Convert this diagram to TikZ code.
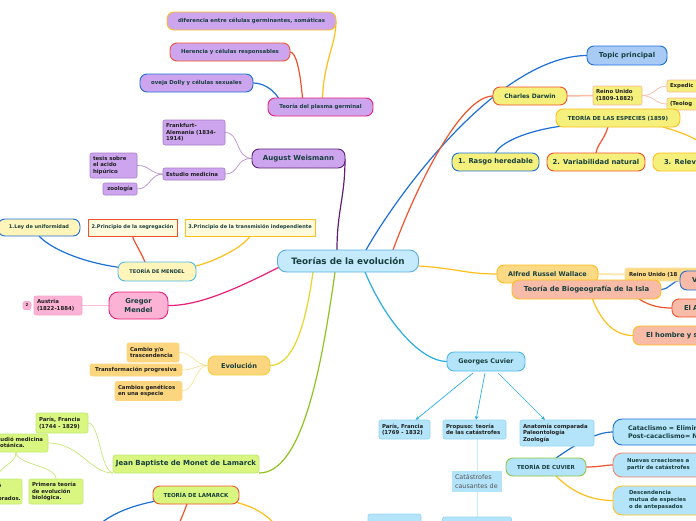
\documentclass[tikz,border=0pt]{standalone}
\usepackage{fontspec}
\setmainfont{DejaVu Sans}
\usetikzlibrary{calc,arrows.meta}
\pgfdeclarelayer{bg}
\pgfsetlayers{bg,main}
\newcommand{\fz}[2]{\fontsize{#1}{#2}\selectfont\bfseries}
\definecolor{tx}{HTML}{173F3F}
\definecolor{cenF}{HTML}{C5EAFB}\definecolor{cenB}{HTML}{5AAFE3}
\definecolor{lav}{HTML}{CDA5EF}\definecolor{weiB}{HTML}{5E1F74}
\definecolor{lavB}{HTML}{A67DC2}\definecolor{lavE}{HTML}{B88FD0}
\definecolor{pinkB}{HTML}{E91E7A}\definecolor{pinkF}{HTML}{FBB2D5}
\definecolor{pinkL}{HTML}{F7A6CB}\definecolor{pkL}{HTML}{F9BDD8}
\definecolor{yelB}{HTML}{FFBE1A}\definecolor{redB}{HTML}{F0532B}
\definecolor{bluB}{HTML}{1B6FD7}\definecolor{topF}{HTML}{A8CBF6}
\definecolor{yel}{HTML}{F5F07B}\definecolor{peachB}{HTML}{F8B596}
\definecolor{peach}{HTML}{F8BBA5}\definecolor{ora}{HTML}{FCD985}
\definecolor{oraB}{HTML}{F9E4A6}\definecolor{paleY}{HTML}{FCE8B3}
\definecolor{sal}{HTML}{F8BBA8}\definecolor{cyF}{HTML}{B4E4F9}
\definecolor{cyB}{HTML}{4DB8EC}\definecolor{cyL}{HTML}{95D6F3}
\definecolor{cyanE}{HTML}{2AABE3}\definecolor{ltcy}{HTML}{C5EDFB}
\definecolor{grnB}{HTML}{8DC63F}\definecolor{ltY}{HTML}{FFF5BA}
\definecolor{ltYb}{HTML}{FFFADB}\definecolor{evF}{HTML}{FBD67F}
\definecolor{evB}{HTML}{F4CF3B}\definecolor{evL}{HTML}{F8E39A}
\definecolor{grF}{HTML}{D8F680}\definecolor{grL}{HTML}{C4E873}
\definecolor{greenE}{HTML}{8DC21F}\definecolor{evE}{HTML}{E6D52A}
\definecolor{nuevB}{HTML}{F2836A}\definecolor{grayT}{HTML}{555555}
\begin{document}
\begin{tikzpicture}[x=1pt,y=-1pt,
  every node/.style={inner sep=0pt, outer sep=0pt},
  pill/.style={draw, rounded corners=7pt, line width=0.9pt, text=tx, align=center},
  sbox/.style={draw, rounded corners=2pt, line width=0.6pt, text=black!88, align=left,
    inner xsep=3pt, inner ysep=2.5pt, font=\fz{5.4}{6.5}},
  rbox/.style={draw, line width=0.8pt, text=tx, align=center},
  edge/.style={line width=1.2pt},
  sub/.style={line width=0.7pt},
  arr/.style={line width=0.7pt, cyanE, -{Stealth[length=4pt,width=3.5pt]}}]
\useasboundingbox (0,0) rectangle (696,520);
\clip (0,0) rectangle (696,520);

% central
\node[pill, fill=cenF, draw=cenB, rounded corners=9pt, minimum width=141pt, minimum height=22pt, font=\fz{8.8}{10}] (root) at (348,261) {Teorías de la evolución};

% Weismann
\node[pill, fill=lav, draw=weiB, minimum width=93pt, minimum height=19pt, font=\fz{7}{8}] (wei) at (298.5,158.5) {August Weismann};
\node[pill, fill=lav, draw=pinkB, minimum width=105pt, minimum height=18pt, font=\fz{5.4}{6.5}] (plasma) at (320.5,107) {Teoría del plasma germinal};
\node[pill, fill=lav, draw=yelB, minimum width=169pt, minimum height=18pt, font=\fz{5.4}{6.5}] (dif) at (251.5,21) {diferencia entre células germinantes, somáticas};
\node[pill, fill=lav, draw=redB, minimum width=120pt, minimum height=18pt, font=\fz{5.4}{6.5}] (her) at (230,52) {Herencia y células responsables};
\node[pill, fill=lav, draw=bluB, minimum width=113pt, minimum height=18pt, font=\fz{5.4}{6.5}] (dolly) at (196.5,83) {oveja Dolly y células sexuales};
\node[sbox, fill=lav, draw=lavB, text width=56pt, minimum height=25pt] (frank) at (194,132.5) {Frankfurt-\\Alemania (1834-\\1914)};
\node[sbox, fill=lav, draw=lavB, text width=56pt, minimum height=12pt] (estud) at (194,174) {Estudio medicina};
\node[sbox, fill=lav, draw=lavB, text width=41pt, minimum height=25pt] (tesis) at (113.5,165.5) {tesis sobre\\el acido\\hipúrico};
\node[sbox, fill=lav, draw=lavB, text width=28pt, minimum height=12pt, align=center] (zoo) at (120,189) {zoología};

% Darwin
\node[pill, fill=topF, draw=bluB, minimum width=80pt, minimum height=19pt, font=\fz{6.9}{8}] (topic) at (627,55.5) {Topic principal};
\node[pill, fill=yel, draw=redB, minimum width=74pt, minimum height=18pt, font=\fz{6}{7}] (darwin) at (530,96) {Charles Darwin};
\node[sbox, fill=yel, draw=peachB, text width=43pt, minimum height=19pt] (reino) at (617.5,95.5) {Reino Unido\\(1809-1882)};
\node[sbox, fill=yel, draw=peachB, anchor=west, text width=60pt, minimum height=12pt] (exped) at (667,86) {Expedic};
\node[sbox, fill=yel, draw=peachB, anchor=west, text width=60pt, minimum height=12pt] (teol) at (667,104) {(Teolog};
\node[pill, fill=yel, draw=yelB, minimum width=124pt, minimum height=18pt, font=\fz{5.5}{6.5}] (esp) at (618,118) {TEORÍA DE LAS ESPECIES (1859)};
\node[pill, fill=yel, draw=bluB, minimum width=87pt, minimum height=18pt, font=\fz{6.8}{8}] (rasgo) at (495.5,162) {1. Rasgo heredable};
\node[pill, fill=yel, draw=redB, minimum width=98pt, minimum height=18pt, font=\fz{6.8}{8}] (var) at (596,162) {2. Variabilidad natural};
\node[pill, fill=yel, draw=yelB, anchor=west, text width=90pt, align=left, inner xsep=11pt, minimum height=18pt, font=\fz{6.8}{8}] (rel) at (653,162) {3. Relevan};

% Wallace
\node[pill, fill=ora, draw=yelB, minimum width=101pt, minimum height=18pt, font=\fz{6.45}{8}] (wal) at (547.5,274) {Alfred Russel Wallace};
\node[sbox, fill=ora, draw=oraB, anchor=west, text width=80pt, inner xsep=4pt, minimum height=13pt] (reinoW) at (625,274.5) {Reino Unido (18};
\node[pill, fill=sal, draw=bluB, anchor=west, text width=40pt, align=left, inner xsep=12pt, minimum height=19pt, font=\fz{6.8}{8}] (vv) at (680,280.5) {V};
\node[pill, fill=sal, draw=yelB, minimum width=149pt, minimum height=19pt, font=\fz{6.9}{8}] (bio) at (586.5,289.5) {Teoría de Biogeografía de la Isla};
\node[pill, fill=sal, draw=redB, anchor=west, text width=60pt, align=left, inner xsep=12pt, minimum height=18pt, font=\fz{6.8}{8}] (elA) at (672,308) {El A};
\node[pill, fill=sal, draw=yelB, anchor=west, text width=90pt, align=left, inner xsep=13pt, minimum height=19pt, font=\fz{6.8}{8}] (hombre) at (633,335.5) {El hombre y s};

% Cuvier
\node[pill, fill=cyF, draw=cyB, minimum width=78pt, minimum height=19pt, font=\fz{6.4}{8}] (cuv) at (486,361.5) {Georges Cuvier};
\node[sbox, fill=cyF, draw=cyL, text width=45pt, minimum height=19pt] (parisC) at (404.5,429.5) {París, Francia\\(1769 - 1832)};
\node[sbox, fill=cyF, draw=cyL, text width=57pt, minimum height=19pt] (prop) at (474.5,429.5) {Propuso: teoría\\de las catástrofes};
\node[sbox, fill=cyF, draw=cyL, text width=68pt, minimum height=26pt] (anat) at (557,433) {Anatomía comparada\\Paleontología\\Zoología};
\node[fill=cyF, text width=44pt, align=left, inner xsep=3pt, minimum height=21pt, text=grayT, font=\fontsize{6.4}{9.5}\selectfont] (cat) at (477,481.5) {Catástrofes\\causantes de};
\node[sbox, fill=cyF, draw=cyL, minimum width=53pt, minimum height=22pt] (b1) at (394.5,525) {};
\node[sbox, fill=cyF, draw=cyL, minimum width=69pt, minimum height=22pt] (b2) at (477,528) {};
\node[pill, fill=cyF, draw=grnB, minimum width=80pt, minimum height=18pt, font=\fz{5.5}{6.5}] (tc) at (546,467) {TEORÍA DE CUVIER};
\node[pill, fill=cyF, draw=bluB, rounded corners=9pt, anchor=west, text width=100pt, align=left, inner xsep=15pt, minimum height=26pt, font=\fz{6.3}{7.5}] (catacl) at (613,432) {Cataclismo = Elimina\\Post-cacaclismo= Nu};
\node[pill, fill=cyF, draw=nuevB, rounded corners=9pt, anchor=west, text width=100pt, align=left, inner xsep=14pt, minimum height=24pt, font=\fz{5.4}{7}] (nuevas) at (613,465) {Nuevas creaciones a\\partir de catástrofes};
\node[pill, fill=cyF, draw=yelB, rounded corners=9pt, anchor=west, text width=100pt, align=left, inner xsep=16pt, minimum height=29pt, font=\fz{5.4}{7}] (desc) at (613,500.5) {Descendencia\\mutua de especies\\o de antepasados};

% Mendel
\node[pill, fill=pinkF, draw=pinkB, rounded corners=9pt, minimum width=59pt, minimum height=27pt, font=\fz{6.8}{9}] (mendel) at (138.5,305.5) {Gregor\\Mendel};
\node[sbox, fill=pinkF, draw=pinkL, text width=42pt, minimum height=19pt] (aus) at (58,305.5) {Austria\\(1822-1884)};
\node[sbox, fill=pinkF, draw=pinkL, inner xsep=0pt, minimum width=8pt, minimum height=7pt, align=center, font=\fz{4}{4}] (two) at (27,305.5) {2};
\node[pill, fill=ltY, draw=cyB, minimum width=78pt, minimum height=19pt, font=\fz{5}{6}] (tm) at (157,271.5) {TEORÍA DE MENDEL};
\node[pill, fill=ltY, draw=bluB, minimum width=82pt, minimum height=17pt, font=\fz{5}{6}] (ley) at (39,227.5) {1.Ley de uniformidad};
\node[rbox, fill=ltYb, draw=redB, minimum width=89pt, minimum height=17pt, font=\fz{5}{6}] (seg) at (132.5,227.5) {2.Principio de la segregación};
\node[rbox, fill=ltYb, draw=yelB, minimum width=130pt, minimum height=17pt, font=\fz{5}{6}] (trans) at (250,227.5) {3.Principio de la transmisión independiente};

% Evolucion
\node[pill, fill=evF, draw=evB, minimum width=62pt, minimum height=19pt, font=\fz{6.65}{8}] (evol) at (239,365.5) {Evolución};
\node[sbox, fill=evF, draw=evF, text width=46pt, minimum height=19pt] (cambio) at (153,352.5) {Cambio y/o\\trascendencia};
\node[sbox, fill=evF, draw=evF, text width=86pt, minimum height=12pt, align=center] (transf) at (136,370) {Transformación progresiva};
\node[sbox, fill=evF, draw=evF, text width=61pt, minimum height=19pt] (gen) at (148.5,391) {Cambios genéticos\\en una especie};

% Lamarck
\node[pill, fill=grF, draw=grL, rounded corners=3pt, minimum width=146pt, minimum height=18pt, font=\fz{7}{8}] (lam) at (186,464) {Jean Baptiste de Monet de Lamarck};
\node[sbox, fill=grF, draw=grL, text width=46pt, minimum height=20pt] (parisL) at (62,423) {París, Francia\\(1744 - 1829)};
\node[sbox, fill=grF, draw=grL, text width=54pt, minimum height=18pt] (estL) at (18,443) {Estudió medicina\\y botánica.};
\node[sbox, fill=grF, draw=grL, text width=43pt, minimum height=25pt] (clas) at (-2.5,491.5) {Clasificó\\la fauna\\invertebrados.};
\node[sbox, fill=grF, draw=grL, text width=48pt, minimum height=25pt] (primera) at (56,491.5) {Primera teoría\\de evolución\\biológica.};
\node[pill, fill=grF, draw=redB, minimum width=86pt, minimum height=18pt, font=\fz{5.5}{6.5}] (tl) at (196,495) {TEORÍA DE LAMARCK};

\coordinate (tlB) at (100,524);
\coordinate (tlO) at (179,524);
\coordinate (tlY) at (275,524);

\begin{pgfonlayer}{bg}
\clip (0,0) rectangle (696,520);
% main branches
\draw[edge, weiB] ([xshift=-11pt]root.north) .. controls +(0,-40) and +(0,40) .. (wei.east);
\draw[edge, bluB] ([xshift=18pt]root.north) .. controls (400,190) and (500,56) .. (topic.west);
\draw[edge, redB] ([xshift=45pt]root.north) .. controls (415,190) and (460,96) .. (darwin.west);
\draw[edge, yelB] ($(root.east)+(0,5)$) .. controls (455,268) and (465,274) .. (wal.west);
\draw[edge, cyanE] ([xshift=17pt]root.south) .. controls (385,320) and (420,361.5) .. (cuv.west);
\draw[edge, pinkB] ($(root.west)+(4,5)$) .. controls (240,287) and (200,306) .. (mendel.east);
\draw[edge, evE] ([xshift=-35pt]root.south) .. controls (305,330) and (292,365.5) .. (evol.east);
\draw[edge, greenE] ([xshift=-13pt]root.south) .. controls (320,380) and (300,473) .. (lam.south east);
% plasma germinal
\draw[edge, yelB] ([xshift=2pt]plasma.north) .. controls (324,60) and (336,45) .. (dif.east);
\draw[edge, redB] ([xshift=-18pt]plasma.north) .. controls (300,70) and (296,52) .. (her.east);
\draw[edge, bluB] ([xshift=-42pt]plasma.north) .. controls (272,88) and (262,83) .. (dolly.east);
% Weismann
\draw[sub, lavE] (wei.west) .. controls (235,158) and (240,132) .. (frank.east);
\draw[sub, lavE] (wei.west) .. controls (235,158) and (240,174) .. (estud.east);
\draw[sub, lavE] (estud.west) .. controls (150,174) and (150,165) .. (tesis.east);
\draw[sub, lavE] (estud.west) .. controls (150,174) and (150,189) .. (zoo.east);
% Darwin
\draw[line width=1.5pt, peach] (darwin.east) -- (reino.west);
\draw[sub, peach] (reino.east) .. controls (655,96) and (655,86) .. (exped.west);
\draw[sub, peach] (reino.east) .. controls (655,96) and (655,104) .. (teol.west);
\draw[edge, bluB] ($(esp.west)+(6,8)$) .. controls (525,131) and (500,143) .. (rasgo.north);
\draw[edge, redB] ($(esp.south)+(-10,0)$) .. controls (604,140) and (597,145) .. (var.north);
\draw[edge, yelB] ($(esp.south)+(45,0)$) .. controls (680,132) and (705,140) .. (rel.north);
% Wallace
\draw[line width=2pt, paleY] (wal.east) -- (reinoW.west);
\draw[edge, bluB] (bio.east) .. controls (670,289) and (672,281) .. (vv.west);
\draw[edge, redB] ($(bio.south east)+(-22,0)$) .. controls (650,306) and (660,308) .. (elA.west);
\draw[edge, yelB] ($(bio.south)+(6,0)$) .. controls (600,318) and (612,335.5) .. (hombre.west);
% Cuvier
\draw[arr] ($(cuv.south)+(-13,2)$) -- ($(parisC.north)+(11,0)$);
\draw[arr] ($(cuv.south)+(-1,2)$) -- ($(prop.north)+(1.5,0)$);
\draw[arr] ($(cuv.south)+(12,2)$) -- ($(anat.north)+(-12,0)$);
\draw[line width=0.9pt, ltcy] ($(prop.south)+(2.5,0)$) -- (cat.north);
\draw[line width=0.9pt, ltcy] (cat.south) -- (b2.north);
\draw[edge, bluB] ($(tc.north)+(10,0)$) .. controls (575,445) and (595,432) .. (catacl.west);
\draw[edge, redB] (tc.east) .. controls (600,467) and (605,465) .. (nuevas.west);
\draw[edge, yelB] ($(tc.south)+(10,0)$) .. controls (575,495) and (595,500.5) .. (desc.west);
% Mendel
\draw[line width=1.5pt, pkL] (mendel.west) -- (aus.east);
\draw[edge, bluB] ($(tm.west)+(2,-4)$) .. controls (80,262) and (50,248) .. (ley.south);
\draw[edge, redB] ($(tm.north)+(-12,0)$) .. controls (140,250) and (134,242) .. (seg.south);
\draw[edge, yelB] ($(tm.east)+(-2,-5)$) .. controls (220,260) and (245,245) .. (trans.south);
% Evolucion
\draw[sub, evL] (evol.west) .. controls (195,365) and (192,352) .. (cambio.east);
\draw[sub, evL] (evol.west) .. controls (195,365) and (195,370) .. (transf.east);
\draw[sub, evL] (evol.west) .. controls (195,365) and (195,391) .. (gen.east);
% Lamarck
\draw[sub, grL] (lam.south west) .. controls (100,470) and (100,423) .. (parisL.east);
\draw[sub, grL] (lam.south west) .. controls (90,473) and (80,443) .. (estL.east);
\draw[sub, grL] ($(estL.south)+(-2,0)$) .. controls (16,465) and (56,465) .. (primera.north);
\draw[sub, grL] ($(estL.south)+(-2,0)$) .. controls (16,465) and (-2,465) .. (clas.north);
\draw[edge, bluB] ($(tl.west)+(3,6)$) .. controls (130,506) and (112,514) .. (tlB);
\draw[edge, redB] ($(tl.south)+(-9,0)$) .. controls (184,512) .. (tlO);
\draw[edge, yelB] ($(tl.east)+(-4,7)$) .. controls (255,507) and (265,514) .. (tlY);
\end{pgfonlayer}
\end{tikzpicture}
\end{document}
